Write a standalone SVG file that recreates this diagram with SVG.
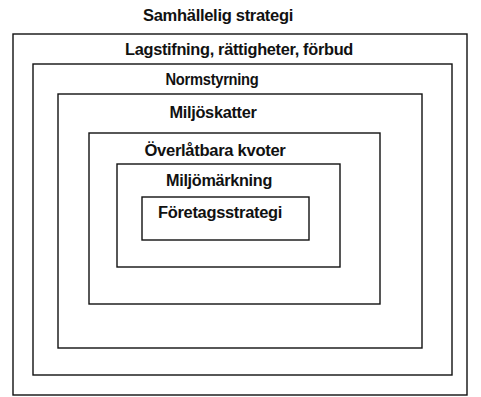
<svg xmlns="http://www.w3.org/2000/svg" width="481" height="397" viewBox="0 0 481 397">
<style>
.b{fill:none;stroke:#111;stroke-width:1.4}
.t{font-family:"Liberation Sans",Arial,sans-serif;font-weight:bold;font-size:16px;fill:#111;text-anchor:middle;letter-spacing:-0.3px}
</style>
<rect width="481" height="397" fill="#fff"/>
<text class="t" x="218" y="21" textLength="150" lengthAdjust="spacingAndGlyphs">Samhällelig strategi</text>
<g id="lag"><rect class="b" x="13" y="34" width="454" height="361"/><text class="t" x="239" y="55" textLength="228" lengthAdjust="spacingAndGlyphs">Lagstifning, rättigheter, förbud</text></g>
<g id="norm"><rect class="b" x="33" y="64" width="419" height="311"/><text class="t" x="212" y="85" textLength="93" lengthAdjust="spacingAndGlyphs">Normstyrning</text></g>
<g id="skatt"><rect class="b" x="58" y="94" width="364" height="254"/><text class="t" x="213" y="118" textLength="87" lengthAdjust="spacingAndGlyphs">Miljöskatter</text></g>
<g id="kvot"><rect class="b" x="89" y="133" width="291" height="171"/><text class="t" x="215" y="156" textLength="141" lengthAdjust="spacingAndGlyphs">Överlåtbara kvoter</text></g>
<g id="mark"><rect class="b" x="117" y="164" width="223" height="103"/><text class="t" x="219" y="186" textLength="106" lengthAdjust="spacingAndGlyphs">Miljömärkning</text></g>
<g id="foretag"><rect class="b" x="142" y="197" width="167" height="43"/><text class="t" x="220" y="218" textLength="124" lengthAdjust="spacingAndGlyphs">Företagsstrategi</text></g>
<g id="connectors"/>
</svg>
